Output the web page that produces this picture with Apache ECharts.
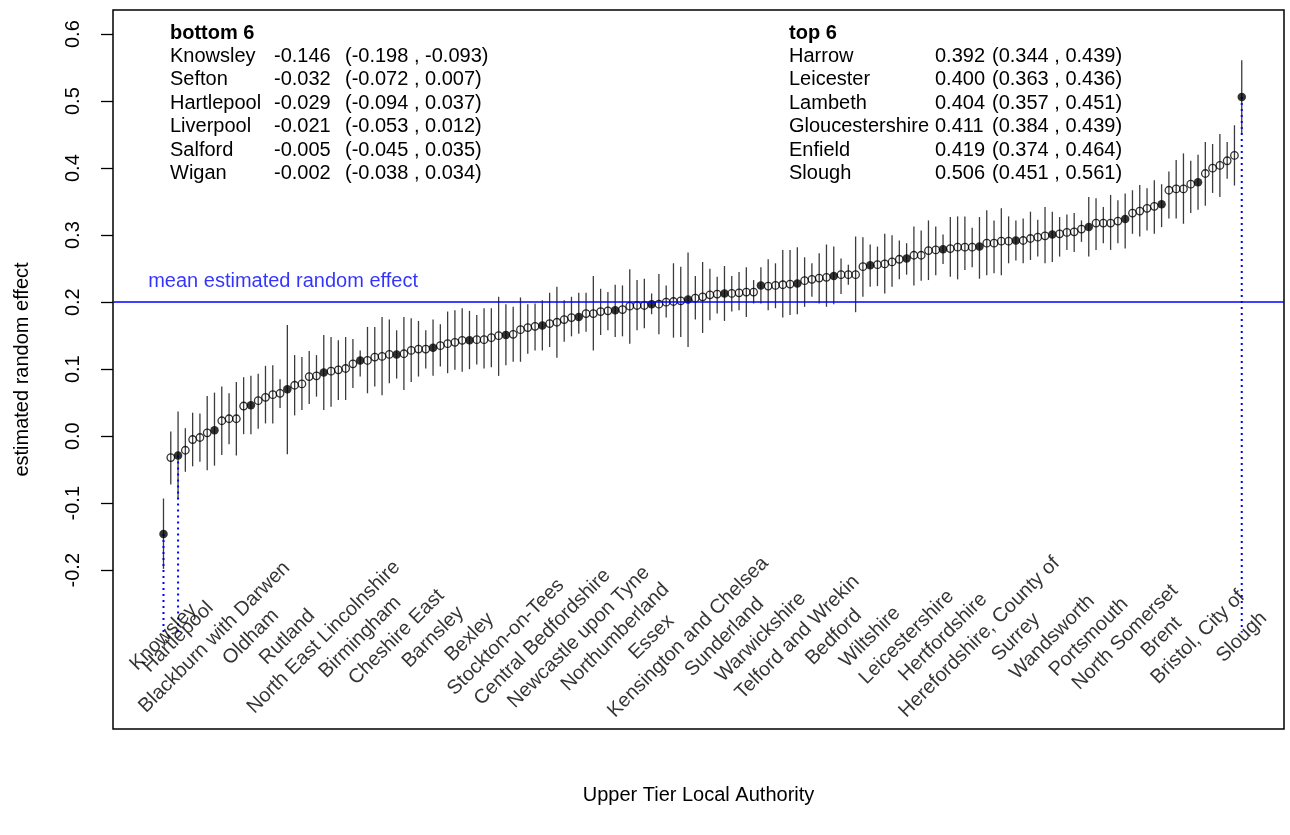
<!DOCTYPE html>
<html>
<head>
<meta charset="utf-8">
<script src="https://cdn.jsdelivr.net/npm/echarts@6/dist/echarts.min.js"></script>
<style>
  html, body { margin: 0; padding: 0; background: #fff; }
  #chart { width: 1290px; height: 835px; }
</style>
</head>
<body>
<div id="chart"></div>
<script>
// estimated random effect per upper tier local authority, sorted ascending (index 0..148)
var est = [
  -0.146, -0.032, -0.029, -0.021, -0.005, -0.002, 0.005, 0.009, 0.023, 0.026,
  0.026, 0.045, 0.046, 0.053, 0.058, 0.062, 0.064, 0.070, 0.076, 0.078,
  0.089, 0.090, 0.095, 0.097, 0.099, 0.101, 0.108, 0.113, 0.113, 0.118,
  0.119, 0.122, 0.122, 0.123, 0.128, 0.130, 0.130, 0.132, 0.135, 0.138,
  0.140, 0.143, 0.143, 0.144, 0.144, 0.147, 0.150, 0.151, 0.152, 0.159,
  0.162, 0.164, 0.165, 0.168, 0.170, 0.174, 0.177, 0.178, 0.183, 0.183,
  0.186, 0.187, 0.188, 0.189, 0.194, 0.195, 0.195, 0.197, 0.197, 0.200,
  0.201, 0.202, 0.204, 0.206, 0.208, 0.211, 0.212, 0.213, 0.213, 0.214,
  0.215, 0.215, 0.225, 0.224, 0.225, 0.226, 0.227, 0.228, 0.232, 0.234,
  0.236, 0.237, 0.239, 0.241, 0.241, 0.241, 0.253, 0.255, 0.256, 0.257,
  0.260, 0.264, 0.265, 0.270, 0.270, 0.277, 0.278, 0.279, 0.280, 0.282,
  0.282, 0.282, 0.283, 0.288, 0.288, 0.291, 0.291, 0.292, 0.292, 0.295,
  0.297, 0.299, 0.301, 0.302, 0.304, 0.305, 0.309, 0.312, 0.318, 0.318,
  0.318, 0.321, 0.324, 0.333, 0.336, 0.340, 0.343, 0.346, 0.367, 0.369,
  0.369, 0.376, 0.379, 0.392, 0.400, 0.404, 0.411, 0.419, 0.506
];
var lower = [
  -0.198, -0.072, -0.094, -0.053, -0.045, -0.038, -0.051, -0.044, -0.028, -0.012,
  -0.029, 0.003, 0.003, 0.011, 0.019, 0.019, 0.042, -0.027, 0.031, 0.039,
  0.048, 0.059, 0.039, 0.044, 0.054, 0.054, 0.072, 0.089, 0.064, 0.074,
  0.061, 0.079, 0.086, 0.069, 0.081, 0.089, 0.101, 0.090, 0.104, 0.094,
  0.099, 0.096, 0.100, 0.107, 0.101, 0.103, 0.090, 0.106, 0.111, 0.111,
  0.123, 0.128, 0.128, 0.133, 0.117, 0.141, 0.149, 0.153, 0.156, 0.128,
  0.151, 0.158, 0.148, 0.149, 0.138, 0.158, 0.161, 0.182, 0.152, 0.177,
  0.147, 0.148, 0.133, 0.174, 0.154, 0.173, 0.183, 0.172, 0.186, 0.188,
  0.178, 0.198, 0.198, 0.188, 0.191, 0.177, 0.181, 0.182, 0.193, 0.208,
  0.198, 0.193, 0.197, 0.212, 0.226, 0.185, 0.208, 0.223, 0.224, 0.213,
  0.223, 0.234, 0.241, 0.225, 0.232, 0.233, 0.240, 0.257, 0.238, 0.234,
  0.248, 0.252, 0.235, 0.240, 0.243, 0.240, 0.258, 0.262, 0.258, 0.263,
  0.268, 0.258, 0.260, 0.268, 0.278, 0.275, 0.290, 0.268, 0.278, 0.288,
  0.278, 0.288, 0.280, 0.302, 0.298, 0.307, 0.302, 0.312, 0.325, 0.325,
  0.317, 0.333, 0.338, 0.344, 0.363, 0.357, 0.384, 0.374, 0.451
];
var upper = [
  -0.093, 0.007, 0.037, 0.012, 0.035, 0.034, 0.060, 0.065, 0.074, 0.064,
  0.081, 0.088, 0.090, 0.093, 0.105, 0.106, 0.085, 0.166, 0.121, 0.118,
  0.127, 0.121, 0.151, 0.148, 0.143, 0.148, 0.145, 0.128, 0.163, 0.163,
  0.178, 0.174, 0.158, 0.178, 0.176, 0.172, 0.158, 0.174, 0.167, 0.186,
  0.188, 0.191, 0.187, 0.181, 0.191, 0.191, 0.208, 0.197, 0.193, 0.207,
  0.197, 0.198, 0.203, 0.214, 0.223, 0.203, 0.208, 0.214, 0.214, 0.239,
  0.220, 0.215, 0.226, 0.225, 0.249, 0.233, 0.235, 0.213, 0.242, 0.225,
  0.258, 0.253, 0.274, 0.239, 0.260, 0.250, 0.238, 0.254, 0.239, 0.245,
  0.252, 0.233, 0.252, 0.264, 0.258, 0.278, 0.278, 0.282, 0.267, 0.258,
  0.273, 0.286, 0.283, 0.265, 0.256, 0.298, 0.297, 0.286, 0.283, 0.302,
  0.300, 0.292, 0.288, 0.313, 0.307, 0.322, 0.313, 0.301, 0.327, 0.328,
  0.328, 0.311, 0.327, 0.337, 0.322, 0.340, 0.328, 0.322, 0.325, 0.335,
  0.323, 0.342, 0.335, 0.327, 0.331, 0.333, 0.322, 0.357, 0.355, 0.342,
  0.360, 0.352, 0.362, 0.367, 0.375, 0.370, 0.382, 0.376, 0.395, 0.412,
  0.422, 0.411, 0.420, 0.439, 0.436, 0.451, 0.439, 0.464, 0.561
];

// labelled (filled) authorities and their position in the sorted list
var labelIdx = [0, 2, 7, 12, 17, 22, 27, 32, 37, 42, 47, 52, 57, 62, 67, 72,
  77, 82, 87, 92, 97, 102, 107, 112, 117, 122, 127, 132, 137, 142, 148];
var labelNames = ["Knowsley", "Hartlepool", "Blackburn with Darwen", "Oldham", "Rutland",
  "North East Lincolnshire", "Birmingham", "Cheshire East", "Barnsley", "Bexley",
  "Stockton-on-Tees", "Central Bedfordshire", "Newcastle upon Tyne", "Northumberland",
  "Essex", "Kensington and Chelsea", "Sunderland", "Warwickshire", "Telford and Wrekin",
  "Bedford", "Wiltshire", "Leicestershire", "Hertfordshire", "Herefordshire, County of",
  "Surrey", "Wandsworth", "Portsmouth", "North Somerset", "Brent", "Bristol, City of", "Slough"];
var highlightIdx = [0, 2, 148];

var bottomNames = ["Knowsley", "Sefton", "Hartlepool", "Liverpool", "Salford", "Wigan"];
var topNames = ["Harrow", "Leicester", "Lambeth", "Gloucestershire", "Enfield", "Slough"];
var meanEffect = 0.204;
var yTicks = [-0.2, -0.1, 0, 0.1, 0.2, 0.3, 0.4, 0.5, 0.6];

var FONT = '"Liberation Sans", Arial, Helvetica, sans-serif';
var LABEL_Y = -0.30;   // where the rotated names sit
var DROP_Y = -0.293;   // end of the dotted blue lines

var chart = echarts.init(document.getElementById('chart'));

var openPts = [], filledPts = [];
est.forEach(function (v, i) {
  if (labelIdx.indexOf(i) >= 0) filledPts.push([i, v]);
  else openPts.push([i, v]);
});
var barData = est.map(function (v, i) { return [i, lower[i], upper[i]]; });
var dropData = highlightIdx.map(function (i) { return [i, est[i]]; });
var nameData = labelIdx.map(function (i, k) { return { value: [i, LABEL_Y], name: labelNames[k] }; });

// the two small tables
function fmt(v) { return v.toFixed(3); }
var graphics = [];
var rowY = [56, 79.5, 103, 126.5, 150, 173];
function addTable(title, names, start, x0, x1, x2) {
  graphics.push({ type: 'text', x: x0, y: 33,
    style: { text: title, font: 'bold 20px ' + FONT, fill: '#000', verticalAlign: 'middle' } });
  names.forEach(function (n, k) {
    var i = start + k;
    graphics.push({ type: 'text', x: x0, y: rowY[k],
      style: { text: n, font: '20px ' + FONT, fill: '#000', verticalAlign: 'middle' } });
    graphics.push({ type: 'text', x: x1, y: rowY[k],
      style: { text: fmt(est[i]), font: '20px ' + FONT, fill: '#000', verticalAlign: 'middle' } });
    graphics.push({ type: 'text', x: x2, y: rowY[k],
      style: { text: '(' + fmt(lower[i]) + ' , ' + fmt(upper[i]) + ')', font: '20px ' + FONT, fill: '#000', verticalAlign: 'middle' } });
  });
}
addTable('bottom 6', bottomNames, 0, 170, 274, 345);
addTable('top 6', topNames, est.length - 6, 789, 935, 992);

var option = {
  animation: false,
  backgroundColor: '#fff',
  textStyle: { fontFamily: FONT },
  grid: { left: 113, right: 6, top: 10, bottom: 106, show: true,
    borderColor: '#000', borderWidth: 1.5 },
  xAxis: {
    type: 'value', min: -6.93, max: 153.8,
    axisLine: { show: false, onZero: false }, axisTick: { show: false },
    axisLabel: { show: false }, splitLine: { show: false },
    name: 'Upper Tier Local Authority', nameLocation: 'middle', nameGap: 56,
    nameTextStyle: { fontSize: 20, color: '#000', fontFamily: FONT }
  },
  yAxis: {
    type: 'value', min: -0.437, max: 0.636,
    axisLine: { show: false, onZero: false }, splitLine: { show: false },
    axisTick: { show: true, length: 12, customValues: yTicks,
      lineStyle: { color: '#000', width: 1.3 } },
    axisLabel: { customValues: yTicks, rotate: 90, margin: 30, fontSize: 20,
      color: '#000', fontFamily: FONT,
      formatter: function (v) { return (+v).toFixed(1); } },
    name: 'estimated random effect', nameLocation: 'middle', nameGap: 81, nameRotate: 90,
    nameTextStyle: { fontSize: 20, color: '#000', fontFamily: FONT }
  },
  graphic: graphics,
  series: [
    {
      type: 'custom', name: 'ci', data: barData,
      encode: { x: 0, y: [1, 2] },
      renderItem: function (params, api) {
        var a = api.coord([api.value(0), api.value(1)]);
        var b = api.coord([api.value(0), api.value(2)]);
        return { type: 'line', shape: { x1: a[0], y1: a[1], x2: b[0], y2: b[1] },
          style: { stroke: '#3c3c3c', lineWidth: 1.3 } };
      }
    },
    {
      type: 'scatter', name: 'open', data: openPts, symbol: 'circle', symbolSize: 7.5,
      itemStyle: { color: 'rgba(0,0,0,0)', borderColor: '#000', borderWidth: 1.3 },
      markLine: { silent: true, symbol: 'none', label: { show: false },
        lineStyle: { color: '#0000ff', width: 1.5, type: 'solid' },
        data: [{ yAxis: meanEffect }] }
    },
    {
      type: 'scatter', name: 'filled', data: filledPts, symbol: 'circle', symbolSize: 8.5,
      itemStyle: { color: '#000', borderColor: '#000', borderWidth: 0 }
    },
    {
      type: 'custom', name: 'drop', data: dropData,
      renderItem: function (params, api) {
        var a = api.coord([api.value(0), api.value(1)]);
        var b = api.coord([api.value(0), DROP_Y]);
        return { type: 'line', shape: { x1: a[0], y1: a[1], x2: b[0], y2: b[1] },
          style: { stroke: '#0000ff', lineWidth: 2, lineDash: [2, 4] } };
      }
    },
    {
      type: 'scatter', name: 'names', data: nameData, symbolSize: 1,
      itemStyle: { color: 'rgba(0,0,0,0)' },
      label: { show: true, position: 'inside', rotate: 45, align: 'center',
        verticalAlign: 'middle', fontSize: 20, color: '#000', fontFamily: FONT,
        formatter: function (p) { return p.name; } }
    },
    {
      type: 'scatter', name: 'meanText', data: [[-2.1, 0.231]], symbolSize: 1,
      itemStyle: { color: 'rgba(0,0,0,0)' },
      label: { show: true, position: 'inside', align: 'left', verticalAlign: 'middle',
        fontSize: 20, color: '#0000ff', fontFamily: FONT,
        formatter: 'mean estimated random effect' }
    }
  ]
};
chart.setOption(option);
</script>
</body>
</html>
